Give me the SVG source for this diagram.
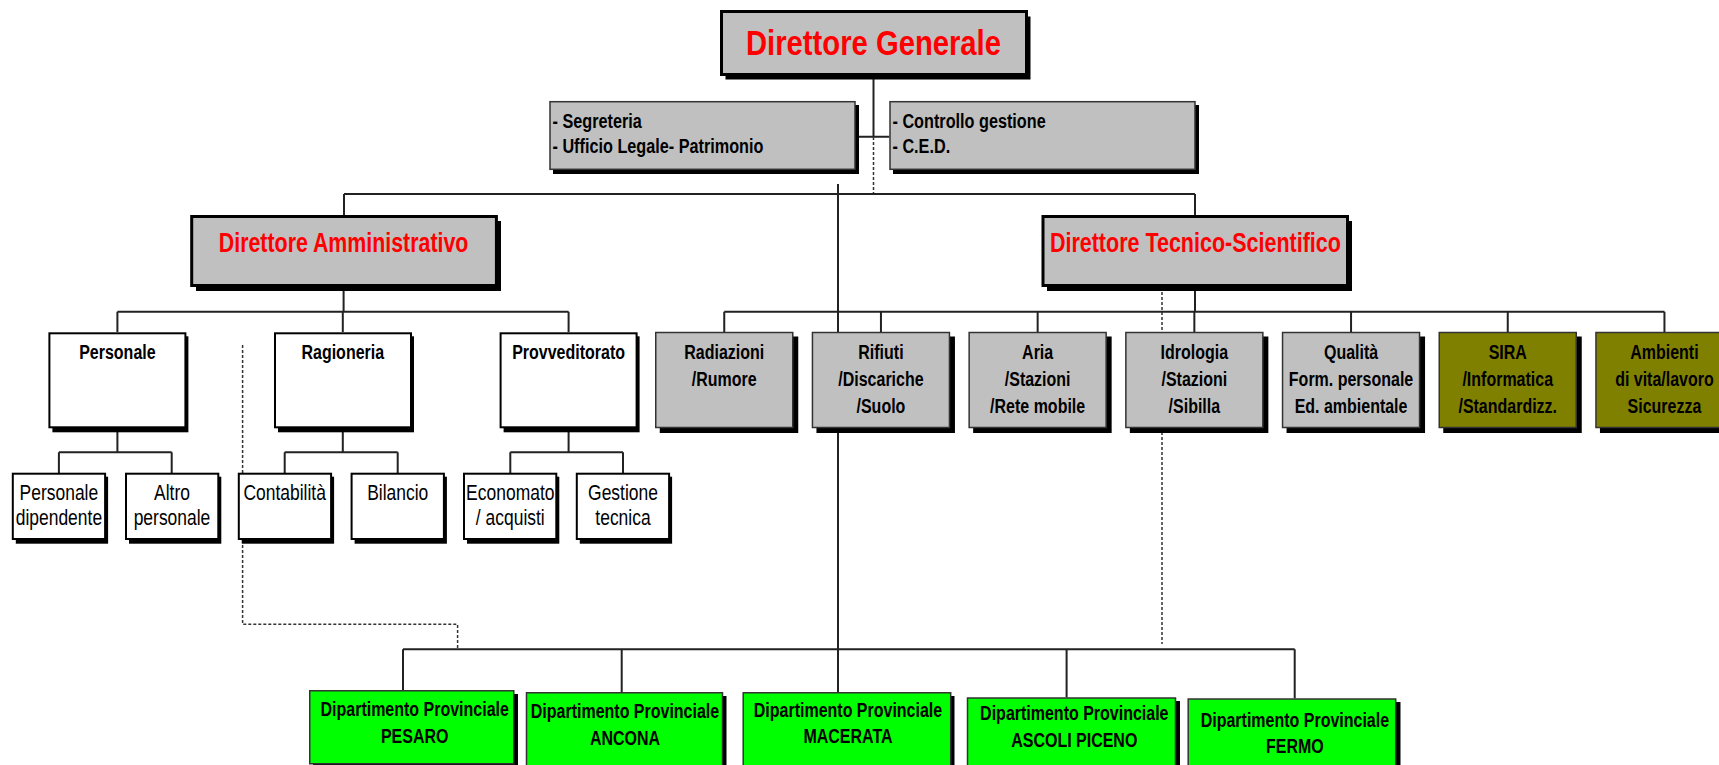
<svg xmlns="http://www.w3.org/2000/svg" width="1719" height="765" viewBox="0 0 1719 765">
<style>
text{font-family:"Liberation Sans Narrow","Arial Narrow","Liberation Sans",Arial,sans-serif;}
.sh{fill:#000}
.gt{fill:#C0C0C0;stroke:#000;stroke-width:3}
.g{fill:#C0C0C0;stroke:#333;stroke-width:1.5}
.w{fill:#fff;stroke:#000;stroke-width:2}
.o{fill:#808000;stroke:#333;stroke-width:1.5}
.gr{fill:#00FF00;stroke:#333;stroke-width:1.5}
.ln{stroke:#222;stroke-width:2;fill:none}
.ds{stroke:#333;stroke-width:1.5;stroke-dasharray:3 2;fill:none}
.ttl{fill:#FF0000;font-weight:bold;text-anchor:middle}
.b{font-weight:bold;font-size:19.5px;text-anchor:middle;fill:#000}
.bl{font-weight:bold;font-size:19.8px;fill:#000}
.n{font-size:21.3px;text-anchor:middle;fill:#000}
</style>
<g id="connectors">
<path class="ln" d="M873.5,76 V136.7 M855.7,136.7 H889.3"/>
<path class="ds" d="M873.5,137 V194"/>
<path class="ln" d="M344,194 H1195 M344,194 V215 M1195,194 V215"/>
<path class="ln" d="M838,184 V697"/>
<path class="ln" d="M343.6,287 V311.7 M117.4,311.7 H568.6 M117.4,311.7 V332 M342.8,311.7 V332 M568.6,311.7 V332"/>
<path class="ln" d="M117.4,428 V452.3 M58.9,452.3 H171.7 M58.9,452.3 V473 M171.7,452.3 V473"/>
<path class="ln" d="M342.8,428 V452.3 M284.7,452.3 H397.7 M284.7,452.3 V473 M397.7,452.3 V473"/>
<path class="ln" d="M568.6,428 V452.3 M510.3,452.3 H623 M510.3,452.3 V473 M623,452.3 V473"/>
<path class="ln" d="M1195,287 V311.7 M724.25,311.7 H1664.45 M724.25,311.7 V332 M880.95,311.7 V332 M1037.65,311.7 V332 M1194.35,311.7 V332 M1351.05,311.7 V332 M1507.75,311.7 V332 M1664.45,311.7 V332"/>
<path class="ds" d="M1162,287 V644"/>
<path class="ds" d="M242.6,345 V624.3 H457.6 V649"/>
<path class="ln" d="M403,649.3 H1294.7 M403,649.3 V690 M621.7,649.3 V694 M1066.6,649.3 V697.5 M1294.7,649.3 V698.5"/>
</g>
<g id="dg">
<rect class="sh" x="725.5" y="16.5" width="305" height="63"/>
<rect class="gt" x="721.5" y="11.5" width="305" height="63"/>
<text class="ttl" x="873.5" y="55" font-size="35" textLength="255" lengthAdjust="spacingAndGlyphs">Direttore Generale</text>
</g>
<g id="segreteria">
<rect class="sh" x="553" y="105" width="306" height="69"/>
<rect class="g" x="550" y="101.7" width="305" height="67.6"/>
<g transform="matrix(0.82 0 0 1 99.45 0)">
<text class="bl" x="552.5" y="127.7">- Segreteria</text>
<text class="bl" x="552.5" y="153.3">- Ufficio Legale- Patrimonio</text>
</g>
</g>
<g id="controllo">
<rect class="sh" x="893" y="105" width="306" height="69"/>
<rect class="g" x="890" y="101.7" width="305" height="67.6"/>
<g transform="matrix(0.82 0 0 1 160.65 0)">
<text class="bl" x="892.5" y="127.7">- Controllo gestione</text>
<text class="bl" x="892.5" y="153.3">- C.E.D.</text>
</g>
</g>
<g id="da">
<rect class="sh" x="196" y="221" width="305" height="70"/>
<rect class="gt" x="191.7" y="216.5" width="304.7" height="69"/>
<text class="ttl" x="343.6" y="251.7" font-size="28" textLength="249.5" lengthAdjust="spacingAndGlyphs">Direttore Amministrativo</text>
</g>
<g id="dts">
<rect class="sh" x="1047" y="221" width="305" height="70"/>
<rect class="gt" x="1043" y="216.5" width="304.5" height="69"/>
<text class="ttl" x="1195.4" y="251.7" font-size="28" textLength="291" lengthAdjust="spacingAndGlyphs">Direttore Tecnico-Scientifico</text>
</g>
<g id="personale">
<rect class="sh" x="52.4" y="336.3" width="136" height="96"/>
<rect class="w" x="49.4" y="333.3" width="136" height="94"/>
<text class="b" x="117.4" y="359.3" transform="matrix(0.82 0 0 1 21.132 0)">Personale</text>
</g>
<g id="ragioneria">
<rect class="sh" x="278" y="336.3" width="136" height="96"/>
<rect class="w" x="275" y="333.3" width="136" height="94"/>
<text class="b" x="342.8" y="359.3" transform="matrix(0.82 0 0 1 61.704 0)">Ragioneria</text>
</g>
<g id="provveditorato">
<rect class="sh" x="503.6" y="336.3" width="136" height="96"/>
<rect class="w" x="500.6" y="333.3" width="136" height="94"/>
<text class="b" x="568.6" y="359.3" transform="matrix(0.82 0 0 1 102.348 0)">Provveditorato</text>
</g>
<g id="pers-dip">
<rect class="sh" x="15.8" y="476.7" width="92.3" height="67"/>
<rect class="w" x="12.8" y="473.7" width="92.3" height="65.3"/>
<g transform="matrix(0.82 0 0 1 10.602 0)">
<text class="n" x="58.9" y="500">Personale</text>
<text class="n" x="58.9" y="525">dipendente</text>
</g>
</g>
<g id="altro-pers">
<rect class="sh" x="129" y="476.7" width="92.3" height="67"/>
<rect class="w" x="126" y="473.7" width="92.3" height="65.3"/>
<g transform="matrix(0.82 0 0 1 30.96 0)">
<text class="n" x="172" y="500">Altro</text>
<text class="n" x="172" y="525">personale</text>
</g>
</g>
<g id="contabilita">
<rect class="sh" x="241.8" y="476.7" width="92.3" height="67"/>
<rect class="w" x="238.8" y="473.7" width="92.3" height="65.3"/>
<text class="n" x="284.7" y="500" transform="matrix(0.82 0 0 1 51.246 0)">Contabilità</text>
</g>
<g id="bilancio">
<rect class="sh" x="354.6" y="476.7" width="92.3" height="67"/>
<rect class="w" x="351.6" y="473.7" width="92.3" height="65.3"/>
<text class="n" x="397.7" y="500" transform="matrix(0.82 0 0 1 71.586 0)">Bilancio</text>
</g>
<g id="economato">
<rect class="sh" x="467" y="476.7" width="92.3" height="67"/>
<rect class="w" x="464" y="473.7" width="92.3" height="65.3"/>
<g transform="matrix(0.82 0 0 1 91.854 0)">
<text class="n" x="510.3" y="500">Economato</text>
<text class="n" x="510.3" y="525">/ acquisti</text>
</g>
</g>
<g id="gestione">
<rect class="sh" x="579.8" y="476.7" width="92.3" height="67"/>
<rect class="w" x="576.8" y="473.7" width="92.3" height="65.3"/>
<g transform="matrix(0.82 0 0 1 112.14 0)">
<text class="n" x="623" y="500">Gestione</text>
<text class="n" x="623" y="525">tecnica</text>
</g>
</g>
<g id="radiazioni">
<rect class="sh" x="659.75" y="336.5" width="138.5" height="96.5"/>
<rect class="g" x="655.75" y="332.5" width="137" height="95"/>
<g transform="matrix(0.82 0 0 1 130.365 0)">
<text class="b" x="724.25" y="359.5">Radiazioni</text>
<text class="b" x="724.25" y="386.5">/Rumore</text>
</g>
</g>
<g id="rifiuti">
<rect class="sh" x="816.45" y="336.5" width="138.5" height="96.5"/>
<rect class="g" x="812.45" y="332.5" width="137" height="95"/>
<g transform="matrix(0.82 0 0 1 158.571 0)">
<text class="b" x="880.95" y="359.5">Rifiuti</text>
<text class="b" x="880.95" y="386.5">/Discariche</text>
<text class="b" x="880.95" y="413">/Suolo</text>
</g>
</g>
<g id="aria">
<rect class="sh" x="973.15" y="336.5" width="138.5" height="96.5"/>
<rect class="g" x="969.15" y="332.5" width="137" height="95"/>
<g transform="matrix(0.82 0 0 1 186.777 0)">
<text class="b" x="1037.65" y="359.5">Aria</text>
<text class="b" x="1037.65" y="386.5">/Stazioni</text>
<text class="b" x="1037.65" y="413">/Rete mobile</text>
</g>
</g>
<g id="idrologia">
<rect class="sh" x="1129.85" y="336.5" width="138.5" height="96.5"/>
<rect class="g" x="1125.85" y="332.5" width="137" height="95"/>
<g transform="matrix(0.82 0 0 1 214.983 0)">
<text class="b" x="1194.35" y="359.5">Idrologia</text>
<text class="b" x="1194.35" y="386.5">/Stazioni</text>
<text class="b" x="1194.35" y="413">/Sibilla</text>
</g>
</g>
<g id="qualita">
<rect class="sh" x="1286.55" y="336.5" width="138.5" height="96.5"/>
<rect class="g" x="1282.55" y="332.5" width="137" height="95"/>
<g transform="matrix(0.82 0 0 1 243.189 0)">
<text class="b" x="1351.05" y="359.5">Qualità</text>
<text class="b" x="1351.05" y="386.5">Form. personale</text>
<text class="b" x="1351.05" y="413">Ed. ambientale</text>
</g>
</g>
<g id="sira">
<rect class="sh" x="1443.25" y="336.5" width="138.5" height="96.5"/>
<rect class="o" x="1439.25" y="332.5" width="137" height="95"/>
<g transform="matrix(0.82 0 0 1 271.395 0)">
<text class="b" x="1507.75" y="359.5">SIRA</text>
<text class="b" x="1507.75" y="386.5">/Informatica</text>
<text class="b" x="1507.75" y="413">/Standardizz.</text>
</g>
</g>
<g id="ambienti">
<rect class="sh" x="1599.95" y="336.5" width="138.5" height="96.5"/>
<rect class="o" x="1595.95" y="332.5" width="137" height="95"/>
<g transform="matrix(0.82 0 0 1 299.601 0)">
<text class="b" x="1664.45" y="359.5">Ambienti</text>
<text class="b" x="1664.45" y="386.5">di vita/lavoro</text>
<text class="b" x="1664.45" y="413">Sicurezza</text>
</g>
</g>
<g id="pesaro">
<rect class="sh" x="313" y="694" width="205" height="75"/>
<rect class="gr" x="309.75" y="690.75" width="204" height="73"/>
<g transform="matrix(0.82 0 0 1 74.646 0)">
<text class="b" x="414.7" y="716.5">Dipartimento Provinciale</text>
<text class="b" x="414.7" y="743">PESARO</text>
</g>
</g>
<g id="ancona">
<rect class="sh" x="529.5" y="696" width="197" height="75"/>
<rect class="gr" x="526.5" y="692.75" width="196" height="75"/>
<g transform="matrix(0.82 0 0 1 112.5 0)">
<text class="b" x="625" y="718.3">Dipartimento Provinciale</text>
<text class="b" x="625" y="745">ANCONA</text>
</g>
</g>
<g id="macerata">
<rect class="sh" x="746.5" y="696" width="208" height="75"/>
<rect class="gr" x="743.2" y="692.75" width="207.5" height="75"/>
<g transform="matrix(0.82 0 0 1 152.64 0)">
<text class="b" x="848" y="716.7">Dipartimento Provinciale</text>
<text class="b" x="848" y="743.3">MACERATA</text>
</g>
</g>
<g id="ascoli">
<rect class="sh" x="971" y="701" width="209" height="75"/>
<rect class="gr" x="967.5" y="698" width="208" height="75"/>
<g transform="matrix(0.82 0 0 1 193.374 0)">
<text class="b" x="1074.3" y="720">Dipartimento Provinciale</text>
<text class="b" x="1074.3" y="746.7">ASCOLI PICENO</text>
</g>
</g>
<g id="fermo">
<rect class="sh" x="1191.5" y="702" width="209" height="75"/>
<rect class="gr" x="1188.2" y="699" width="207.5" height="75"/>
<g transform="matrix(0.82 0 0 1 233.082 0)">
<text class="b" x="1294.9" y="726.7">Dipartimento Provinciale</text>
<text class="b" x="1294.9" y="753.3">FERMO</text>
</g>
</g>
</svg>
